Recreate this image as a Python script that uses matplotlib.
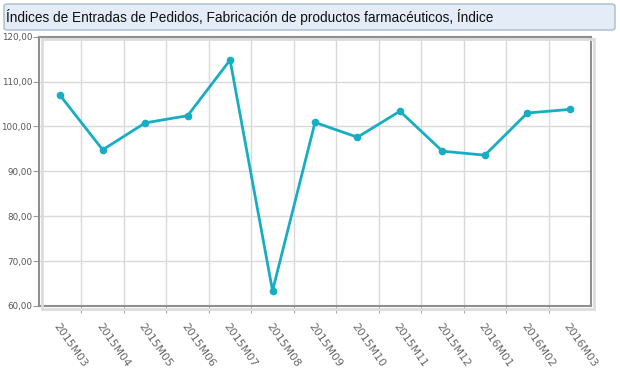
import numpy as np
import matplotlib
matplotlib.use("Agg")
import matplotlib.pyplot as plt
from matplotlib import font_manager
from matplotlib.patches import FancyBboxPatch, Rectangle

periods = ["2015M03", "2015M04", "2015M05", "2015M06", "2015M07", "2015M08", "2015M09",
           "2015M10", "2015M11", "2015M12", "2016M01", "2016M02", "2016M03"]
indice = [106.9, 94.8, 100.8, 102.4, 114.8, 63.4, 100.9,
          97.6, 103.4, 94.5, 93.6, 103.0, 103.8]
yticks = [60, 70, 80, 90, 100, 110, 120]
title = "Índices de Entradas de Pedidos, Fabricación de productos farmacéuticos, Índice"

names = {f.name for f in font_manager.fontManager.ttflist}
title_font = "Liberation Sans Narrow" if "Liberation Sans Narrow" in names else "Liberation Sans"

W, H = 620, 368
fig = plt.figure(figsize=(W/100, H/100), dpi=100)

# title box
box = FancyBboxPatch((4/W, 1-30/H), 611/W, 26/H, boxstyle="round,pad=0,rounding_size=0.006",
                     transform=fig.transFigure, facecolor="#e3ecf7", edgecolor="#a9bbd0",
                     linewidth=1, zorder=0)
fig.patches.append(box)
fig.text(6/W, 1-17/H, title, fontsize=9.8, family=title_font, color="#111111",
         va="center", ha="left")

ax = fig.add_axes([39/W, 1-306/H, 552/W, 269.3/H])

# soft shadow behind the plot frame
shadow = Rectangle((41.5/W, 1-308.5/H), 552/W, 269.3/H, transform=fig.transFigure,
                   facecolor="none", edgecolor="#dcdcdc", linewidth=2, zorder=0)
fig.patches.append(shadow)

x = np.arange(len(periods))
ax.plot(x, indice, color="#17adc2", lw=2, marker="o", ms=4.5, zorder=3)

ax.set_xlim(-0.5, len(periods)-0.5)
ax.set_ylim(60, 120)
ax.set_yticks(yticks)
ax.set_yticklabels([f"{v:.2f}".replace(".", ",") for v in yticks], fontsize=6.3, color="#555555")
ax.set_xticks(x)
ax.set_xticklabels(periods, fontsize=7.8, color="#666666", rotation=-55,
                   ha="left", va="top", rotation_mode="anchor")
ax.set_xticks(np.arange(0.5, len(periods)-0.5), minor=True)
ax.tick_params(axis="x", which="major", length=0, pad=11)
ax.tick_params(axis="x", which="minor", length=5, color="#999999", direction="out")
ax.tick_params(axis="y", length=4, color="#999999", pad=1)

ax.grid(axis="y", color="#d9d9d9", lw=1)
ax.grid(axis="x", which="minor", color="#d9d9d9", lw=1)
ax.set_axisbelow(True)
for s in ax.spines.values():
    s.set_color("#8f8f8f")
    s.set_linewidth(1.5)

fig.savefig("out.png", dpi=100)
